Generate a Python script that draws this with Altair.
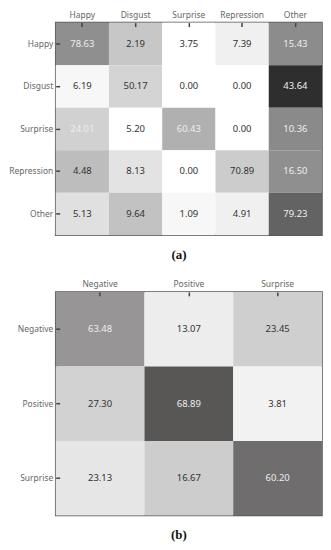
import altair as alt
import pandas as pd

# ---- data (a) ----
a_labels = ["Happy", "Disgust", "Surprise", "Repression", "Other"]
a_values = [
    [78.63, 2.19, 3.75, 7.39, 15.43],
    [6.19, 50.17, 0.00, 0.00, 43.64],
    [24.01, 5.20, 60.43, 0.00, 10.36],
    [4.48, 8.13, 0.00, 70.89, 16.50],
    [5.13, 9.64, 1.09, 4.91, 79.23],
]
# cell darkness (0 = white, 1 = black)
a_shade = [
    [0.44, 0.22, 0.00, 0.06, 0.45],
    [0.03, 0.17, 0.00, 0.00, 0.82],
    [0.18, 0.00, 0.31, 0.00, 0.46],
    [0.26, 0.11, 0.00, 0.20, 0.44],
    [0.12, 0.24, 0.03, 0.06, 0.61],
]
a_light = [
    [1, 0, 0, 0, 1],
    [0, 0, 0, 0, 1],
    [1, 0, 1, 0, 1],
    [0, 0, 0, 0, 1],
    [0, 0, 0, 0, 1],
]

# ---- data (b) ----
b_labels = ["Negative", "Positive", "Surprise"]
b_values = [
    [63.48, 13.07, 23.45],
    [27.30, 68.89, 3.81],
    [23.13, 16.67, 60.20],
]
b_shade = [
    [0.42, 0.07, 0.19],
    [0.18, 0.67, 0.05],
    [0.10, 0.20, 0.58],
]
b_light = [
    [1, 0, 0],
    [0, 1, 0],
    [0, 0, 1],
]

LABEL_FONT = "Noto Sans"


def axis(orient):
    return alt.Axis(
        orient=orient,
        title=None,
        labelAngle=0,
        labelFont=LABEL_FONT,
        labelFontSize=8.5,
        labelColor="#666666",
        domain=False,
        ticks=True,
        tickColor="#444444",
        tickSize=4,
        tickWidth=1.5,
        offset=-4,
        labelPadding=3,
    )


def panel(labels, values, shade, light, rng, w, h, caption, title_offset):
    rows = []
    for i, t in enumerate(labels):
        for j, p in enumerate(labels):
            rows.append(dict(true=t, pred=p, value=values[i][j],
                             shade=shade[i][j], light=light[i][j]))
    df = pd.DataFrame(rows)
    base = alt.Chart(df).encode(
        x=alt.X("pred:N", sort=labels, axis=axis("top")),
        y=alt.Y("true:N", sort=labels, axis=axis("left")),
    )
    rect = base.mark_rect().encode(
        color=alt.Color("shade:Q",
                        scale=alt.Scale(domain=[0, 1], range=rng, interpolate="rgb"),
                        legend=None)
    )
    text = base.mark_text(font=LABEL_FONT, fontSize=9.5).encode(
        text=alt.Text("value:Q", format=".2f"),
        color=alt.condition(alt.datum.light == 1, alt.value("#eeeeee"), alt.value("#333333")),
    )
    return alt.layer(rect, text).properties(
        width=w,
        height=h,
        title=alt.TitleParams(
            caption, orient="bottom", anchor="middle", frame="group",
            font="Liberation Serif", fontSize=13, fontWeight="bold",
            color="#111111", offset=title_offset, dx=-10,
        ),
    )


pa = panel(a_labels, a_values, a_shade, a_light, ["#ffffff", "#000000"], 268, 214, "(a)", 14)
pb = panel(b_labels, b_values, b_shade, b_light, ["#ffffff", "#070303"], 268, 225, "(b)", 14)

chart = (
    alt.vconcat(pa, pb, spacing=16)
    .resolve_scale(color="independent")
    .properties(padding={"left": 0, "top": 0, "right": 0, "bottom": 0})
    .configure_view(stroke="#555555", strokeWidth=1.5)
    .configure_title(fontSize=13)
)

chart.save("out.html", embed_options={"renderer": "svg", "actions": False})
